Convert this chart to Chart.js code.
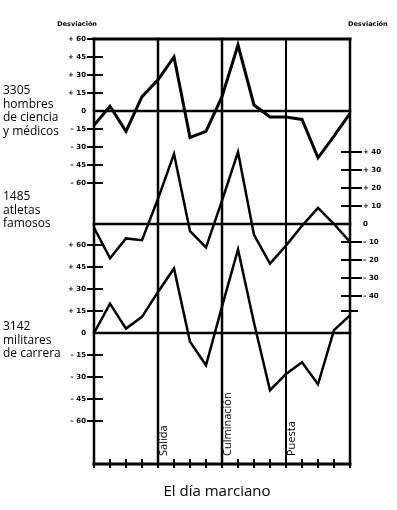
<!DOCTYPE html>
<html><head><meta charset="utf-8">
<script src="https://cdn.jsdelivr.net/npm/chart.js@4.4.1/dist/chart.umd.min.js"></script>
<style>html,body{margin:0;padding:0;background:#fff}#wrap{width:397px;height:510px;position:relative}canvas{display:block}</style>
</head><body><div id="wrap"><canvas id="c" width="397" height="510"></canvas></div>
<script>
// ---- data ----
const sectors = [0,1,2,3,4,5,6,7,8,9,10,11,12,13,14,15,16];
const cientificos = [-12, 4, -17, 12, 26, 45, -22, -17, 12, 55, 5, -5, -5, -7, -39, -21, -2];
const atletas     = [-2, -19, -8, -9, 14, 39, -4, -13, 13, 40, -6, -22, -12, -1, 9, 0, -10];
const militares   = [0, 20, 3, 11, 28, 44, -6, -22, 18, 57, 7, -39, -28, -20, -35, 2, 12];
const groupNames = [
  ['3305','hombres','de ciencia','y médicos'],
  ['1485','atletas','famosos'],
  ['3142','militares','de carrera']
];
const leftTicks = [60,45,30,15,0,-15,-30,-45,-60];
const leftTickLabels = ['+ 60','+ 45','+ 30','+ 15','0','– 15','– 30','– 45','– 60'];
const rightTicks = [40,30,20,10,0,-10,-20,-30,-40];
const rightTickLabels = ['+ 40','+ 30','+ 20','+ 10','0','– 10','– 20','– 30','– 40'];
const markerSectors = [4,8,12];
const markerLabels = ['Salida','Culminación','Puesta'];
const axisTitle = 'Desviación';
const xTitle = 'El día marciano';

const decor = {
  id:'decor',
  beforeDatasetsDraw(chart){
    const ctx = chart.ctx, a = chart.chartArea, x = chart.scales.x;
    const yA = chart.scales.yA, yB = chart.scales.yB, yC = chart.scales.yC;
    ctx.save();
    ctx.strokeStyle = '#000';
    ctx.lineCap = 'square';
    // frame
    ctx.lineWidth = 3;
    ctx.beginPath(); ctx.moveTo(a.left, a.top); ctx.lineTo(a.right, a.top); ctx.stroke();
    ctx.beginPath(); ctx.moveTo(a.left, a.bottom); ctx.lineTo(a.right, a.bottom); ctx.stroke();
    ctx.lineWidth = 2.5;
    ctx.beginPath(); ctx.moveTo(a.left, a.top); ctx.lineTo(a.left, a.bottom); ctx.stroke();
    ctx.beginPath(); ctx.moveTo(a.right, a.top); ctx.lineTo(a.right, a.bottom); ctx.stroke();
    // marker verticals
    markerSectors.forEach((s,i)=>{
      const px = x.getPixelForValue(s);
      ctx.lineWidth = i===2 ? 2 : 2.5;
      ctx.beginPath(); ctx.moveTo(px, a.top); ctx.lineTo(px, a.bottom); ctx.stroke();
    });
    // zero lines
    ctx.lineWidth = 2.5;
    [yA,yB,yC].forEach(s=>{
      const py = s.getPixelForValue(0);
      ctx.beginPath(); ctx.moveTo(a.left, py); ctx.lineTo(a.right, py); ctx.stroke();
    });
    // bottom ticks
    ctx.lineWidth = 2;
    sectors.forEach(s=>{
      const px = x.getPixelForValue(s);
      ctx.beginPath(); ctx.moveTo(px, a.bottom-4); ctx.lineTo(px, a.bottom+3); ctx.stroke();
    });
    // left ticks (top & bottom series)
    ctx.fillStyle = '#000';
    ctx.font = 'bold 7px "DejaVu Sans"';
    ctx.textAlign = 'right'; ctx.textBaseline = 'middle';
    [yA,yC].forEach(s=>{
      leftTicks.forEach((v,i)=>{
        const py = s.getPixelForValue(v);
        if (v!==0){
          ctx.lineWidth = 2;
          ctx.beginPath(); ctx.moveTo(a.left-6, py); ctx.lineTo(a.left+8, py); ctx.stroke();
        }
        ctx.fillText(leftTickLabels[i], a.left-8, py);
      });
    });
    // right ticks (middle series)
    ctx.textAlign = 'left';
    rightTicks.forEach((v,i)=>{
      const py = yB.getPixelForValue(v);
      if (v!==0){
        ctx.lineWidth = 2;
        ctx.beginPath(); ctx.moveTo(a.right-8, py); ctx.lineTo(a.right+11, py); ctx.stroke();
      }
      ctx.fillText(rightTickLabels[i], a.right+13, py);
    });
    // extra right tick for lower series
    ctx.lineWidth = 2;
    const pe = yC.getPixelForValue(15);
    ctx.beginPath(); ctx.moveTo(a.right-8, pe); ctx.lineTo(a.right+7, pe); ctx.stroke();
    ctx.restore();
  },
  afterDraw(chart){
    const ctx = chart.ctx, a = chart.chartArea, x = chart.scales.x;
    const yA = chart.scales.yA, yB = chart.scales.yB, yC = chart.scales.yC;
    ctx.save();
    ctx.fillStyle = '#000';
    // axis titles
    ctx.font = 'bold 6.5px "DejaVu Sans"';
    ctx.textBaseline = 'middle';
    ctx.textAlign = 'right';
    ctx.fillText(axisTitle, a.left+3, a.top-15);
    ctx.textAlign = 'left';
    ctx.fillText(axisTitle, a.right-2, a.top-15);
    // group names
    ctx.font = '12px "Open Sans"';
    ctx.textAlign = 'left';
    const starts = [yA.getPixelForValue(0)-20, yB.getPixelForValue(0)-27, yC.getPixelForValue(0)-6];
    groupNames.forEach((lines,g)=>{
      lines.forEach((t,i)=>ctx.fillText(t, 3, starts[g] + i*13.5));
    });
    // marker labels (rotated)
    ctx.font = '11px "Open Sans"';
    markerSectors.forEach((s,i)=>{
      const px = x.getPixelForValue(s);
      ctx.save();
      ctx.translate(px+6, a.bottom-8);
      ctx.rotate(-Math.PI/2);
      ctx.textAlign = 'left'; ctx.textBaseline = 'middle';
      ctx.fillText(markerLabels[i], 0, 0);
      ctx.restore();
    });
    // x title
    ctx.font = '15px "Open Sans"';
    ctx.textAlign = 'center'; ctx.textBaseline = 'middle';
    ctx.fillText(xTitle, 217, 492);
    ctx.restore();
  }
};

const lineDs = (label, data, axis, w) => ({
  label, data: data.map((v,i)=>({x:sectors[i], y:v})), yAxisID: axis,
  borderColor:'#000', backgroundColor:'#000', borderWidth:w,
  pointRadius:0, tension:0, fill:false, borderJoinStyle:'miter'
});

new Chart(document.getElementById('c'), {
  type:'line',
  data:{ datasets:[
    lineDs(groupNames[0].join(' '), cientificos, 'yA', 3),
    lineDs(groupNames[1].join(' '), atletas, 'yB', 2.5),
    lineDs(groupNames[2].join(' '), militares, 'yC', 2.5)
  ]},
  options:{
    responsive:false, animation:false, devicePixelRatio:1,
    layout:{padding:{left:94, top:39, right:47, bottom:46}},
    plugins:{legend:{display:false}, tooltip:{enabled:false}},
    scales:{
      x:{type:'linear', min:0, max:16, display:false},
      yA:{type:'linear', min:-294.17, max:60, display:false},
      yB:{type:'linear', min:-133.33, max:102.78, display:false},
      yC:{type:'linear', min:-89.32, max:200.45, display:false}
    }
  },
  plugins:[decor]
});
</script></body></html>
